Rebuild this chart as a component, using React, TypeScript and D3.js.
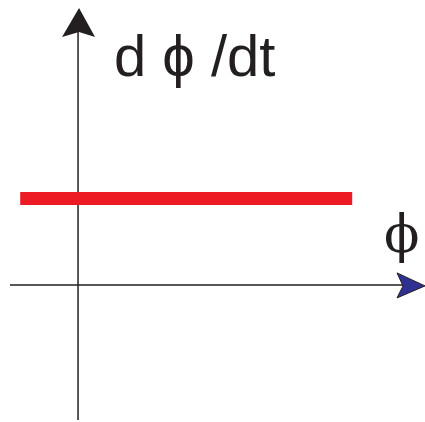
import * as d3 from "d3";
import { useRef, useEffect } from "react";

// phi axis extent and the constant rate line
const phiDomain = [-1, 5.1];
const rateDomain = [-2, 4.1];
const ratePhi = [-0.85, 4.03];
const rateValue = [1.28, 1.28];
const yLabel = "d \u03d5 /dt";
const xLabel = "\u03d5";

const App = () => {
  const container = useRef<SVGSVGElement | null>(null);

  useEffect(() => {
    const width = 425;
    const height = 422;
    const svg = d3.select(container.current);
    svg.selectAll("*").remove();

    const xScale = d3.scaleLinear().domain(phiDomain).range([10, 425]);
    const yScale = d3.scaleLinear().domain(rateDomain).range([420, 8]);

    const x0 = xScale(0);
    const y0 = yScale(0);
    const axisColor = "#231f20";

    // horizontal axis
    svg
      .append("line")
      .attr("x1", xScale(phiDomain[0]))
      .attr("x2", xScale(phiDomain[1]) - 20)
      .attr("y1", y0)
      .attr("y2", y0)
      .attr("stroke", axisColor)
      .attr("stroke-width", 1.5);

    // vertical axis
    svg
      .append("line")
      .attr("x1", x0)
      .attr("x2", x0)
      .attr("y1", yScale(rateDomain[0]))
      .attr("y2", yScale(rateDomain[1]) + 20)
      .attr("stroke", axisColor)
      .attr("stroke-width", 1.5);

    // arrow heads
    const xt = xScale(phiDomain[1]);
    svg
      .append("path")
      .attr(
        "d",
        `M${xt},${y0 + 1} L${xt - 28},${y0 - 12} L${xt - 22},${y0 + 1} L${xt - 28},${y0 + 13} Z`
      )
      .attr("fill", "#2e3192")
      .attr("stroke", axisColor)
      .attr("stroke-width", 1);

    const yt = yScale(rateDomain[1]);
    svg
      .append("path")
      .attr(
        "d",
        `M${x0 + 1},${yt} L${x0 + 17},${yt + 29} L${x0 + 1},${yt + 24} L${x0 - 16},${yt + 29} Z`
      )
      .attr("fill", axisColor);

    // constant rate line
    const line = d3
      .line<number>()
      .x((d) => xScale(d))
      .y((_, i) => yScale(rateValue[i]));
    svg
      .append("path")
      .datum(ratePhi)
      .attr("d", line)
      .attr("stroke", "#ed1c24")
      .attr("stroke-width", 13)
      .attr("fill", "none");

    // labels
    svg
      .append("text")
      .attr("x", 114)
      .attr("y", 76)
      .attr("font-family", "Liberation Sans, Arial, sans-serif")
      .attr("font-size", 58)
      .attr("fill", axisColor)
      .text(yLabel);

    svg
      .append("text")
      .attr("x", 384)
      .attr("y", 252)
      .attr("font-family", "DejaVu Serif, serif")
      .attr("font-size", 52)
      .attr("fill", axisColor)
      .text(xLabel);

    svg.attr("width", width).attr("height", height);
  });

  return (
    <svg
      ref={container}
      width={425}
      height={422}
      style={{ position: "absolute", left: 0, top: 0, background: "#fff" }}
    ></svg>
  );
};

export default App;
